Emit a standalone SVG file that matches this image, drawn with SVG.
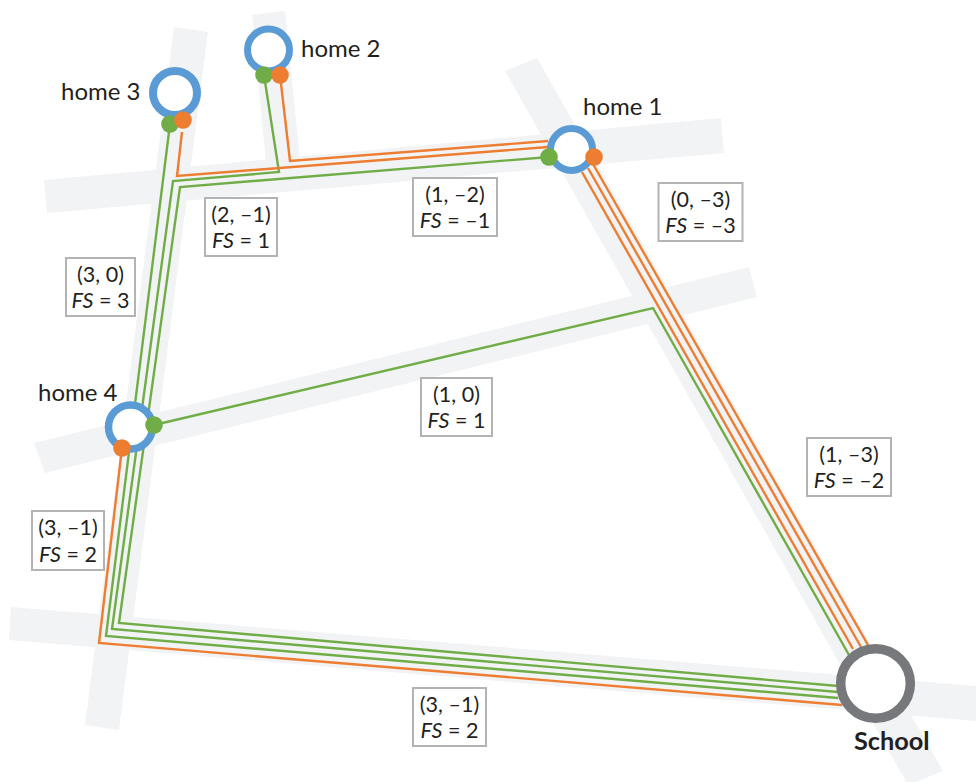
<svg xmlns="http://www.w3.org/2000/svg" width="976" height="782" viewBox="0 0 976 782">
<style>
.road{fill:#f2f3f5}
.g,.o{fill:none;stroke-width:2.4;stroke-linejoin:miter}
.g{stroke:#70ad47}.o{stroke:#ed7d31}
.dg{fill:#70ad47}.do{fill:#ed7d31}
.ring{fill:#fff;stroke:#5b9bd5}
.box{fill:#fff;stroke:#b3b3b3;stroke-width:2}
text{font-family:"Lato","Open Sans","Liberation Sans",sans-serif;fill:#231f20}
.n{font-size:24px}
.l{font-size:21.5px;text-anchor:middle}
.fs{font-style:italic}
</style>
<rect width="976" height="782" fill="#fff"/>
<g id="roads">
<polygon class="road" points="44,180 721,118 724,153 47,213"/>
<polygon class="road" points="174,27 208,32 119,730 85,725"/>
<polygon class="road" points="252,15 285,11 300,160 266,163"/>
<polygon class="road" points="505,71 537,58 943,771 908,785"/>
<polygon class="road" points="34,443 749,267 757,297 45,473"/>
<polygon class="road" points="11,607 976,686 976,721 9,640"/>
</g>
<g id="connectors">
<path class="g" d="M170 124L106 636L838 698"/>
<path class="g" d="M264 75L279 172L173 181L112 629L838 692"/>
<path class="g" d="M549 157L180 187L119 623L838 686"/>
<path class="g" d="M154 425L653 308L849 655"/>
<path class="o" d="M182 132L177 176L548 147"/>
<path class="o" d="M280 75L290 161L548 141"/>
<path class="o" d="M122 448L99 643L842 705"/>
<path class="o" d="M582 172L853 649"/>
<path class="o" d="M588 168L861 647"/>
<path class="o" d="M593 164L868 645"/>
</g>
<g id="home1"><circle class="ring" cx="571.5" cy="149.5" r="21" stroke-width="7"/><circle class="dg" cx="549" cy="157" r="8.8"/><circle class="do" cx="594" cy="157" r="8.8"/><text class="n" x="583" y="115">home 1</text></g>
<g id="home2"><circle class="ring" cx="268.5" cy="50" r="21" stroke-width="7"/><circle class="dg" cx="264" cy="75" r="8.8"/><circle class="do" cx="280" cy="75" r="8.8"/><text class="n" x="301" y="57">home 2</text></g>
<g id="home3"><circle class="ring" cx="175" cy="93" r="22" stroke-width="8"/><circle class="dg" cx="170" cy="124" r="8.8"/><circle class="do" cx="183" cy="120" r="8.8"/><text class="n" x="61" y="100">home 3</text></g>
<g id="home4"><circle class="ring" cx="130.5" cy="427" r="22" stroke-width="7.5"/><circle class="dg" cx="154" cy="425" r="8.8"/><circle class="do" cx="122" cy="448" r="8.8"/><text class="n" x="38" y="401">home 4</text></g>
<g id="school"><circle cx="875.5" cy="683.500" r="34.8" fill="#fff" stroke="#77787b" stroke-width="9.5"/><text x="854" y="750" font-size="25.3" font-weight="700">School</text></g>
<g id="label-3-0"><rect class="box" x="66" y="258" width="69" height="58"/><text class="l" x="100.500" y="281.500">(3, 0)</text><text class="l" x="100.500" y="307.500"><tspan class="fs">FS</tspan> = 3</text></g>
<g id="label-2-1"><rect class="box" x="205" y="198" width="72" height="58"/><text class="l" x="241" y="221.500">(2, –1)</text><text class="l" x="241" y="247.500"><tspan class="fs">FS</tspan> = 1</text></g>
<g id="label-1-2"><rect class="box" x="413" y="178" width="84" height="58"/><text class="l" x="455" y="201.500">(1, –2)</text><text class="l" x="455" y="227.500"><tspan class="fs">FS</tspan> = –1</text></g>
<g id="label-0-3"><rect class="box" x="658.500" y="183" width="84" height="58"/><text class="l" x="700.500" y="206.500">(0, –3)</text><text class="l" x="700.500" y="232.500"><tspan class="fs">FS</tspan> = –3</text></g>
<g id="label-1-0"><rect class="box" x="421" y="378" width="71" height="58"/><text class="l" x="456.500" y="401.500">(1, 0)</text><text class="l" x="456.500" y="427.500"><tspan class="fs">FS</tspan> = 1</text></g>
<g id="label-1-3"><rect class="box" x="807" y="438" width="84" height="58"/><text class="l" x="849" y="461.500">(1, –3)</text><text class="l" x="849" y="487.500"><tspan class="fs">FS</tspan> = –2</text></g>
<g id="label-3-1a"><rect class="box" x="32" y="511" width="72" height="59"/><text class="l" x="68" y="534.500">(3, –1)</text><text class="l" x="68" y="561.500"><tspan class="fs">FS</tspan> = 2</text></g>
<g id="label-3-1b"><rect class="box" x="413" y="688" width="73" height="58"/><text class="l" x="449.500" y="711.500">(3, –1)</text><text class="l" x="449.500" y="737.500"><tspan class="fs">FS</tspan> = 2</text></g>
</svg>
